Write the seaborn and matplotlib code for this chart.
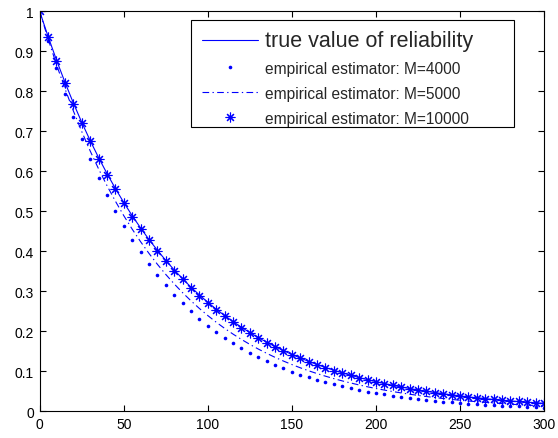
import matplotlib
matplotlib.use("Agg")
import matplotlib.pyplot as plt
from matplotlib.patches import Rectangle
import seaborn as sns
import numpy as np
import pandas as pd

# ---- data (t every 5 units, 0..300) ----
t = list(range(0, 301, 5))

true_value = [1.0, 0.9371, 0.8782, 0.8230, 0.7712, 0.7228, 0.6773, 0.6348, 0.5949, 0.5574,
              0.5224, 0.4895, 0.4588, 0.4299, 0.4029, 0.3776, 0.3538, 0.3316, 0.3107, 0.2912,
              0.2729, 0.2557, 0.2397, 0.2246, 0.2105, 0.1972, 0.1848, 0.1732, 0.1623, 0.1521,
              0.1426, 0.1336, 0.1252, 0.1173, 0.1099, 0.1030, 0.0966, 0.0905, 0.0848, 0.0795,
              0.0745, 0.0698, 0.0654, 0.0613, 0.0574, 0.0538, 0.0504, 0.0473, 0.0443, 0.0415,
              0.0389, 0.0364, 0.0342, 0.0320, 0.0300, 0.0281, 0.0263, 0.0247, 0.0231, 0.0217,
              0.0203]

m4000 = [1.0, 0.9260, 0.8574, 0.7939, 0.7351, 0.6807, 0.6303, 0.5836, 0.5404, 0.5004,
         0.4634, 0.4291, 0.3973, 0.3679, 0.3406, 0.3154, 0.2921, 0.2705, 0.2504, 0.2319,
         0.2147, 0.1988, 0.1841, 0.1705, 0.1578, 0.1462, 0.1353, 0.1253, 0.1160, 0.1075,
         0.0995, 0.0921, 0.0853, 0.0790, 0.0731, 0.0677, 0.0627, 0.0581, 0.0538, 0.0498,
         0.0461, 0.0427, 0.0395, 0.0366, 0.0339, 0.0314, 0.0291, 0.0269, 0.0249, 0.0231,
         0.0214, 0.0198, 0.0183, 0.0170, 0.0157, 0.0145, 0.0135, 0.0125, 0.0115, 0.0107,
         0.0099]

m5000 = [1.0, 0.9311, 0.8669, 0.8071, 0.7515, 0.6997, 0.6514, 0.6065, 0.5647, 0.5258,
         0.4895, 0.4558, 0.4244, 0.3951, 0.3679, 0.3425, 0.3189, 0.2969, 0.2765, 0.2574,
         0.2397, 0.2231, 0.2077, 0.1934, 0.1801, 0.1677, 0.1561, 0.1454, 0.1353, 0.1260,
         0.1173, 0.1092, 0.1017, 0.0947, 0.0882, 0.0821, 0.0764, 0.0712, 0.0663, 0.0617,
         0.0574, 0.0535, 0.0498, 0.0464, 0.0432, 0.0402, 0.0374, 0.0348, 0.0324, 0.0302,
         0.0281, 0.0262, 0.0244, 0.0227, 0.0211, 0.0197, 0.0183, 0.0170, 0.0159, 0.0148,
         0.0138]

m10000 = [1.0, 0.936, 0.876, 0.821, 0.769, 0.720, 0.675, 0.632, 0.592, 0.555,
          0.520, 0.487, 0.456, 0.428, 0.401, 0.375, 0.352, 0.330, 0.309, 0.289,
          0.271, 0.254, 0.238, 0.223, 0.209, 0.196, 0.184, 0.172, 0.161, 0.151,
          0.142, 0.133, 0.124, 0.117, 0.109, 0.102, 0.096, 0.090, 0.084, 0.079,
          0.074, 0.069, 0.065, 0.061, 0.057, 0.053, 0.050, 0.047, 0.044, 0.041,
          0.039, 0.036, 0.034, 0.032, 0.030, 0.028, 0.026, 0.025, 0.023, 0.022,
          0.020]

labels = ["true value of reliability",
          "empirical estimator: M=4000",
          "empirical estimator: M=5000",
          "empirical estimator: M=10000"]

x_ticks = [0, 50, 100, 150, 200, 250, 300]
y_ticks = [0, 0.1, 0.2, 0.3, 0.4, 0.5, 0.6, 0.7, 0.8, 0.9, 1]
y_tick_labels = ["0", "0.1", "0.2", "0.3", "0.4", "0.5", "0.6", "0.7", "0.8", "0.9", "1"]

# ---- style ----
sns.set_style("ticks")
plt.rcParams['font.family'] = ['Liberation Sans', 'DejaVu Sans']

fig = plt.figure(figsize=(5.58, 4.39), dpi=100)
ax = fig.add_axes([0.0711, 0.0604, 0.975 - 0.0711, 0.972 - 0.0604])

blue = (0, 0, 1)

sns.lineplot(x=t, y=true_value, ax=ax, color=blue, linewidth=0.8, label=labels[0])
ln_true = ax.lines[-1]
sns.lineplot(x=t, y=m4000, ax=ax, color=blue, linewidth=0.8, label=labels[1])
ln_4000 = ax.lines[-1]
sns.lineplot(x=t, y=m5000, ax=ax, color=blue, linewidth=0.8, label=labels[2])
ln_5000 = ax.lines[-1]
sns.lineplot(x=t, y=m10000, ax=ax, color=blue, linewidth=0.8, label=labels[3])
ln_10000 = ax.lines[-1]

ln_true.set_linestyle('-')
ln_4000.set_linestyle('none')
ln_4000.set_marker('o')
ln_4000.set_markersize(2.6)
ln_4000.set_markeredgewidth(0)
ln_4000.set_markerfacecolor(blue)
ln_5000.set_linestyle((0, (6, 3, 1.2, 3)))
ln_10000.set_linestyle('none')
ln_10000.set_marker((8, 2, 0))
ln_10000.set_markersize(7)
ln_10000.set_markeredgewidth(0.8)
ln_10000.set_markeredgecolor(blue)

ax.set_xlim(0, 300)
ax.set_ylim(0, 1)
ax.set_xticks(x_ticks)
ax.set_yticks(y_ticks)
ax.set_yticklabels(y_tick_labels)
ax.tick_params(direction='in', top=True, right=True, length=4, width=0.8,
               labelsize=10, colors='black', pad=4)
for s in ax.spines.values():
    s.set_visible(True)
    s.set_linewidth(0.8)
    s.set_color('black')

# legend box (MATLAB-style, wider than its content)
box = Rectangle((0.300, 0.711), 0.9405 - 0.300, 0.978 - 0.711, transform=ax.transAxes,
                facecolor='white', edgecolor='black', linewidth=0.8, zorder=4)
ax.add_patch(box)

handles = [ln_true, ln_4000, ln_5000, ln_10000]
leg = ax.legend(handles, labels, loc='upper left', bbox_to_anchor=(0.3218, 0.9535),
                borderaxespad=0, borderpad=0, fontsize=11.2, frameon=False,
                handlelength=3.6, handletextpad=0.45, labelspacing=0.64)
leg.set_zorder(5)
leg.get_texts()[0].set_fontsize(15.5)

fig.savefig("out.png", dpi=100)
